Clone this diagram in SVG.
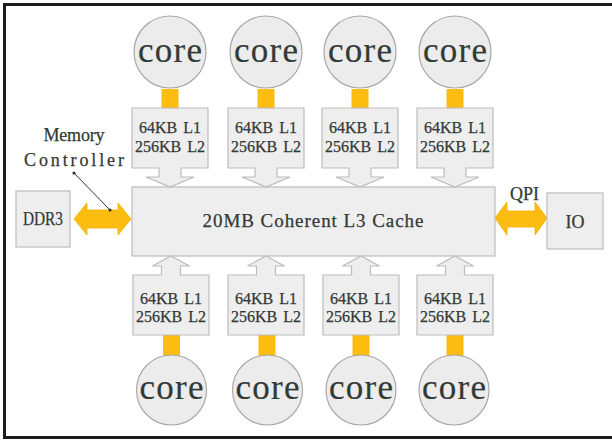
<svg xmlns="http://www.w3.org/2000/svg" xmlns:xlink="http://www.w3.org/1999/xlink" width="612" height="441" viewBox="0 0 612 441" font-family="'Liberation Serif', 'Times New Roman', 'DejaVu Serif', serif">
  <style>
    .frame { fill: none; stroke: #1c1c1c; stroke-width: 3; }
    .box { fill: #eeeeee; stroke: #bcbcbc; stroke-width: 1.2; }
    .core { fill: #ececec; stroke: #a8a8a8; stroke-width: 1.2; }
    .link { fill: #fcbc10; stroke: none; }
    .bus { fill: #fcbc10; stroke: #f2b000; stroke-width: 0.8; }
    .txt { font-family: 'Liberation Serif', 'Times New Roman', 'DejaVu Serif', serif; fill: #323a36; stroke: #323a36; stroke-width: 0.25; }
    .core-t { font-size: 35px; text-anchor: middle; stroke-width: 0.2; }
    .cache-t { font-size: 16px; text-anchor: middle; word-spacing: 2px; }
    .big-t { font-size: 19px; text-anchor: middle; }
    .lbl-t { font-size: 18px; text-anchor: middle; }
    .leader { stroke: #333; stroke-width: 1; fill: none; }
  </style>
  <defs>
    <!-- private L1/L2 block with a down arrow into the shared cache -->
    <path id="l12-down" d="M-38,108 H38 V168 H11 V177 H24 L0,187 L-24,177 H-11 V168 H-38 Z"/>
    <!-- private L1/L2 block with an up arrow into the shared cache -->
    <path id="l12-up" d="M-38,335 V275 H-9.5 V266 H-18.5 L0,256 L18.5,266 H9.5 V275 H38 V335 Z"/>
  </defs>

  <rect x="0" y="0" width="612" height="441" fill="#ffffff"/>
  <path class="frame" d="M612,4.5 H4.5 V437.5 H612"/>

  <!-- connectors: core-to-cache links, memory bus and QPI -->
  <g id="connectors">
    <rect class="link" x="161.5" y="89" width="17" height="19"/>
    <rect class="link" x="257.5" y="89" width="17" height="19"/>
    <rect class="link" x="351.5" y="89" width="17" height="19"/>
    <rect class="link" x="446.5" y="89" width="17" height="19"/>
    <rect class="link" x="163" y="335" width="17" height="21"/>
    <rect class="link" x="258.5" y="335" width="17" height="21"/>
    <rect class="link" x="352.5" y="335" width="17" height="21"/>
    <rect class="link" x="446.5" y="335" width="17" height="21"/>
    <polygon class="bus" points="74,219 87,203 87,210 118,210 118,203 131,219 118,235 118,228 87,228 87,235"/>
    <polygon class="bus" points="495,218 507,202 507,211 535,211 535,202 547,218 535,235 535,227 507,227 507,235"/>
  </g>

  <!-- shared last-level cache -->
  <g id="l3">
    <rect class="box" x="132" y="187" width="363" height="69"/>
    <text class="txt big-t" x="313" y="227" textLength="221" lengthAdjust="spacing">20MB Coherent L3 Cache</text>
  </g>

  <!-- top row -->
  <g id="core-t1"><circle class="core" cx="170" cy="52" r="36"/><text class="txt core-t" x="170" y="62" textLength="64">core</text></g>
  <g id="core-t2"><circle class="core" cx="266" cy="52" r="36"/><text class="txt core-t" x="266" y="62" textLength="64">core</text></g>
  <g id="core-t3"><circle class="core" cx="360" cy="52" r="36"/><text class="txt core-t" x="360" y="62" textLength="64">core</text></g>
  <g id="core-t4"><circle class="core" cx="455" cy="52" r="36"/><text class="txt core-t" x="455" y="62" textLength="64">core</text></g>

  <g id="cache-t1"><use xlink:href="#l12-down" class="box" transform="translate(170,0)"/><text class="txt cache-t" x="170" y="133">64KB L1</text><text class="txt cache-t" x="170" y="152">256KB L2</text></g>
  <g id="cache-t2"><use xlink:href="#l12-down" class="box" transform="translate(266,0)"/><text class="txt cache-t" x="266" y="133">64KB L1</text><text class="txt cache-t" x="266" y="152">256KB L2</text></g>
  <g id="cache-t3"><use xlink:href="#l12-down" class="box" transform="translate(360,0)"/><text class="txt cache-t" x="360" y="133">64KB L1</text><text class="txt cache-t" x="360" y="152">256KB L2</text></g>
  <g id="cache-t4"><use xlink:href="#l12-down" class="box" transform="translate(455,0)"/><text class="txt cache-t" x="455" y="133">64KB L1</text><text class="txt cache-t" x="455" y="152">256KB L2</text></g>

  <!-- bottom row -->
  <g id="cache-b1"><use xlink:href="#l12-up" class="box" transform="translate(171,0)"/><text class="txt cache-t" x="171" y="304">64KB L1</text><text class="txt cache-t" x="171" y="322">256KB L2</text></g>
  <g id="cache-b2"><use xlink:href="#l12-up" class="box" transform="translate(266,0)"/><text class="txt cache-t" x="266" y="304">64KB L1</text><text class="txt cache-t" x="266" y="322">256KB L2</text></g>
  <g id="cache-b3"><use xlink:href="#l12-up" class="box" transform="translate(361,0)"/><text class="txt cache-t" x="361" y="304">64KB L1</text><text class="txt cache-t" x="361" y="322">256KB L2</text></g>
  <g id="cache-b4"><use xlink:href="#l12-up" class="box" transform="translate(455,0)"/><text class="txt cache-t" x="455" y="304">64KB L1</text><text class="txt cache-t" x="455" y="322">256KB L2</text></g>

  <g id="core-b1"><circle class="core" cx="171.5" cy="390" r="35"/><text class="txt core-t" x="171.5" y="399" textLength="64">core</text></g>
  <g id="core-b2"><circle class="core" cx="267.5" cy="390" r="35"/><text class="txt core-t" x="267.5" y="399" textLength="64">core</text></g>
  <g id="core-b3"><circle class="core" cx="361" cy="390" r="35"/><text class="txt core-t" x="361" y="399" textLength="64">core</text></g>
  <g id="core-b4"><circle class="core" cx="454" cy="390" r="35"/><text class="txt core-t" x="454" y="399" textLength="64">core</text></g>

  <!-- memory side -->
  <g id="ddr3">
    <rect class="box" x="16" y="191" width="54" height="56"/>
    <text class="txt lbl-t" x="43" y="225" textLength="40" lengthAdjust="spacingAndGlyphs">DDR3</text>
  </g>
  <g id="memory-controller">
    <text class="txt lbl-t" x="74" y="141" textLength="61">Memory</text>
    <text class="txt lbl-t" x="74" y="166" textLength="100">Controller</text>
    <line class="leader" x1="74" y1="173" x2="110" y2="210"/>
    <circle cx="74" cy="173" r="1.6" fill="#333"/>
    <circle cx="110" cy="210" r="1.6" fill="#333"/>
  </g>

  <!-- I/O side -->
  <g id="io">
    <rect class="box" x="547" y="193" width="56" height="56"/>
    <text class="txt lbl-t" x="575" y="228">IO</text>
  </g>
  <g id="qpi">
    <text class="txt lbl-t" x="524.5" y="200">QPI</text>
  </g>
</svg>
